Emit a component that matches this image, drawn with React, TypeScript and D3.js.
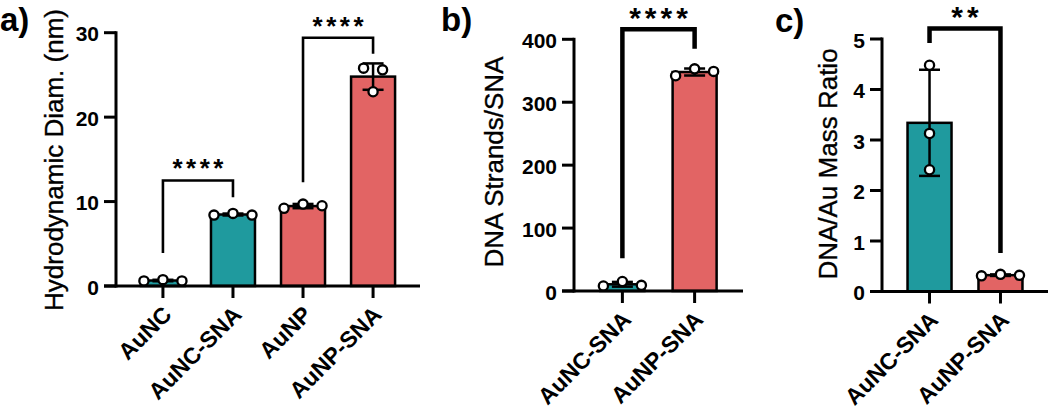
import React from 'react';
import * as d3 from 'd3';

const TEAL = '#1F9A9E';
const RED = '#E26464';
const FONT = '"Liberation Sans", Arial, Helvetica, sans-serif';

// ---- Panel a: Hydrodynamic diameter ----
const catsA = ['AuNC', 'AuNC-SNA', 'AuNP', 'AuNP-SNA'];
const valsA = [
  [0.6, 0.75, 0.6],
  [8.4, 8.6, 8.4],
  [9.2, 9.7, 9.5],
  [25.8, 23.0, 25.6],
];
const colorsA = [TEAL, TEAL, RED, RED];
const ticksA = [0, 10, 20, 30];
const sigFromA = [0, 2];
const sigToA = [1, 3];
const sigTopA = [12.5, 29.4];
const sigLeftEndA = [3.9, 12.3];
const sigRightEndA = [10.5, 27.5];
const sigLabelA = ['****', '****'];

// ---- Panel b: DNA strands per SNA ----
const catsB = ['AuNC-SNA', 'AuNP-SNA'];
const valsB = [
  [8, 15, 9],
  [342, 353, 349],
];
const colorsB = [TEAL, RED];
const ticksB = [0, 100, 200, 300, 400];
const sigFromB = [0];
const sigToB = [1];
const sigTopB = [416];
const sigLeftEndB = [52];
const sigRightEndB = [385];
const sigLabelB = ['****'];

// ---- Panel c: DNA/Au mass ratio ----
const catsC = ['AuNC-SNA', 'AuNP-SNA'];
const valsC = [
  [4.48, 3.13, 2.41],
  [0.31, 0.34, 0.32],
];
const colorsC = [TEAL, RED];
const ticksC = [0, 1, 2, 3, 4, 5];
const sigFromC = [0];
const sigToC = [1];
const sigTopC = [5.21];
const sigLeftEndC = [4.92];
const sigRightEndC = [0.76];
const sigLabelC = ['**'];

type Layout = {
  letter: string;
  letterX: number;
  letterY: number;
  title: string;
  titleX: number;
  titleY: number;
  axisX: number;
  axisEnd: number;
  y0: number;
  yTop: number;
  bracketW: number;
  starSize: number;
  starLS: number;
  starGap: number;
};

type PanelProps = {
  cats: string[];
  vals: number[][];
  colors: string[];
  ticks: number[];
  sigFrom: number[];
  sigTo: number[];
  sigTop: number[];
  sigLeftEnd: number[];
  sigRightEnd: number[];
  sigLabel: string[];
  layout: Layout;
};

const R = 4.6;
const SPACING = 19;

function swarmOffsets(pys: number[]): number[] {
  const idx = pys.map((_, i) => i).sort((a, b) => pys[a] - pys[b]);
  const clusters: number[][] = [];
  idx.forEach((i) => {
    const last = clusters[clusters.length - 1];
    if (last && Math.abs(pys[i] - pys[last[last.length - 1]]) < 2 * R + 3) last.push(i);
    else clusters.push([i]);
  });
  const off = pys.map(() => 0);
  clusters.forEach((c) => {
    const sorted = [...c].sort((a, b) => a - b);
    sorted.forEach((i, k) => {
      off[i] = (k - (sorted.length - 1) / 2) * SPACING;
    });
  });
  return off;
}

function Panel(p: PanelProps) {
  const L = p.layout;
  const yMax = p.ticks[p.ticks.length - 1];
  const y = d3.scaleLinear().domain([0, yMax]).range([L.y0, L.yTop]);
  const x = d3.scalePoint<string>().domain(p.cats).range([L.axisX, L.axisEnd]).padding(0.67);
  const barW = 44;
  const capHalf = 10.5;

  return (
    <g fontFamily={FONT}>
      <text x={L.letterX} y={L.letterY} fontSize={33} fontWeight="bold">{L.letter}</text>
      <text
        transform={`translate(${L.titleX},${L.titleY}) rotate(-90)`}
        textAnchor="middle"
        fontSize={26}
        stroke="#000"
        strokeWidth={0.35}
      >
        {L.title}
      </text>
      {/* bars */}
      {p.cats.map((c, i) => {
        const m = d3.mean(p.vals[i]) as number;
        const cx = x(c) as number;
        return (
          <rect
            key={'bar' + c}
            x={cx - barW / 2}
            y={y(m)}
            width={barW}
            height={L.y0 - y(m)}
            fill={p.colors[i]}
            stroke="#000"
            strokeWidth={2.5}
          />
        );
      })}
      {/* error bars */}
      {p.cats.map((c, i) => {
        const m = d3.mean(p.vals[i]) as number;
        const sd = d3.deviation(p.vals[i]) as number;
        const cx = x(c) as number;
        return (
          <g key={'err' + c} stroke="#000" strokeWidth={2.5}>
            <line x1={cx} x2={cx} y1={y(m + sd)} y2={y(Math.max(0, m - sd))} />
            <line x1={cx - capHalf} x2={cx + capHalf} y1={y(m + sd)} y2={y(m + sd)} />
            <line x1={cx - capHalf} x2={cx + capHalf} y1={y(Math.max(0, m - sd))} y2={y(Math.max(0, m - sd))} />
          </g>
        );
      })}
      {/* points */}
      {p.cats.map((c, i) => {
        const cx = x(c) as number;
        const pys = p.vals[i].map((v) => y(v));
        const off = swarmOffsets(pys);
        return (
          <g key={'pts' + c}>
            {pys.map((py, k) => (
              <circle key={k} cx={cx + off[k]} cy={py} r={R} fill="#fff" stroke="#000" strokeWidth={2.3} />
            ))}
          </g>
        );
      })}
      {/* axes */}
      <g stroke="#000" strokeWidth={3} fill="none">
        <line x1={L.axisX} x2={L.axisX} y1={L.yTop - 1.5} y2={L.y0 + 1.5} />
        <line x1={L.axisX - 12} x2={L.axisEnd} y1={L.y0} y2={L.y0} />
        {p.ticks.map((t) => (
          <line key={'yt' + t} x1={L.axisX - 12} x2={L.axisX} y1={y(t)} y2={y(t)} />
        ))}
        {p.cats.map((c) => (
          <line key={'xt' + c} x1={x(c) as number} x2={x(c) as number} y1={L.y0} y2={L.y0 + 12} />
        ))}
      </g>
      {p.ticks.map((t) => (
        <text
          key={'ytl' + t}
          x={L.axisX - 17}
          y={y(t) + 1}
          textAnchor="end"
          dominantBaseline="central"
          fontSize={21}
          fontWeight="bold"
        >
          {t}
        </text>
      ))}
      {p.cats.map((c) => (
        <text
          key={'xtl' + c}
          transform={`translate(${(x(c) as number) + 10},${L.y0 + 30}) rotate(-45)`}
          textAnchor="end"
          fontSize={23}
          fontWeight="bold"
        >
          {c}
        </text>
      ))}
      {/* significance brackets */}
      {p.sigFrom.map((f, i) => {
        const x1 = x(p.cats[f]) as number;
        const x2 = x(p.cats[p.sigTo[i]]) as number;
        const yt = y(p.sigTop[i]);
        return (
          <g key={'sig' + i}>
            <path
              d={`M${x1},${y(p.sigLeftEnd[i])}V${yt}H${x2}V${y(p.sigRightEnd[i])}`}
              fill="none"
              stroke="#000"
              strokeWidth={L.bracketW}
              strokeLinejoin="miter"
            />
            <text
              x={(x1 + x2) / 2 + L.starLS / 2}
              y={yt - L.starGap}
              textAnchor="middle"
              fontSize={L.starSize}
              fontWeight="bold"
              letterSpacing={L.starLS}
            >
              {p.sigLabel[i]}
            </text>
          </g>
        );
      })}
    </g>
  );
}

const layoutA: Layout = {
  letter: 'a)', letterX: 0, letterY: 31,
  title: 'Hydrodynamic Diam. (nm)', titleX: 63, titleY: 160,
  axisX: 116, axisEnd: 420, y0: 286, yTop: 32.7,
  bracketW: 2.6, starSize: 26, starLS: 3.5, starGap: 3,
};
const layoutB: Layout = {
  letter: 'b)', letterX: 441, letterY: 31,
  title: 'DNA Strands/SNA', titleX: 503, titleY: 162,
  axisX: 574, axisEnd: 743, y0: 291, yTop: 39.3,
  bracketW: 4.5, starSize: 30, starLS: 4, starGap: 1,
};
const layoutC: Layout = {
  letter: 'c)', letterX: 775, letterY: 32,
  title: 'DNA/Au Mass Ratio', titleX: 837, titleY: 164,
  axisX: 882, axisEnd: 1048, y0: 291.5, yTop: 39,
  bracketW: 4.5, starSize: 30, starLS: 4, starGap: 1,
};

export default function App() {
  return (
    <svg
      width={1050}
      height={411}
      viewBox="0 0 1050 411"
      style={{ position: 'absolute', left: 0, top: 0, background: '#fff' }}
    >
      <rect width={1050} height={411} fill="#fff" />
      <Panel
        cats={catsA} vals={valsA} colors={colorsA} ticks={ticksA}
        sigFrom={sigFromA} sigTo={sigToA} sigTop={sigTopA}
        sigLeftEnd={sigLeftEndA} sigRightEnd={sigRightEndA} sigLabel={sigLabelA}
        layout={layoutA}
      />
      <Panel
        cats={catsB} vals={valsB} colors={colorsB} ticks={ticksB}
        sigFrom={sigFromB} sigTo={sigToB} sigTop={sigTopB}
        sigLeftEnd={sigLeftEndB} sigRightEnd={sigRightEndB} sigLabel={sigLabelB}
        layout={layoutB}
      />
      <Panel
        cats={catsC} vals={valsC} colors={colorsC} ticks={ticksC}
        sigFrom={sigFromC} sigTo={sigToC} sigTop={sigTopC}
        sigLeftEnd={sigLeftEndC} sigRightEnd={sigRightEndC} sigLabel={sigLabelC}
        layout={layoutC}
      />
    </svg>
  );
}
